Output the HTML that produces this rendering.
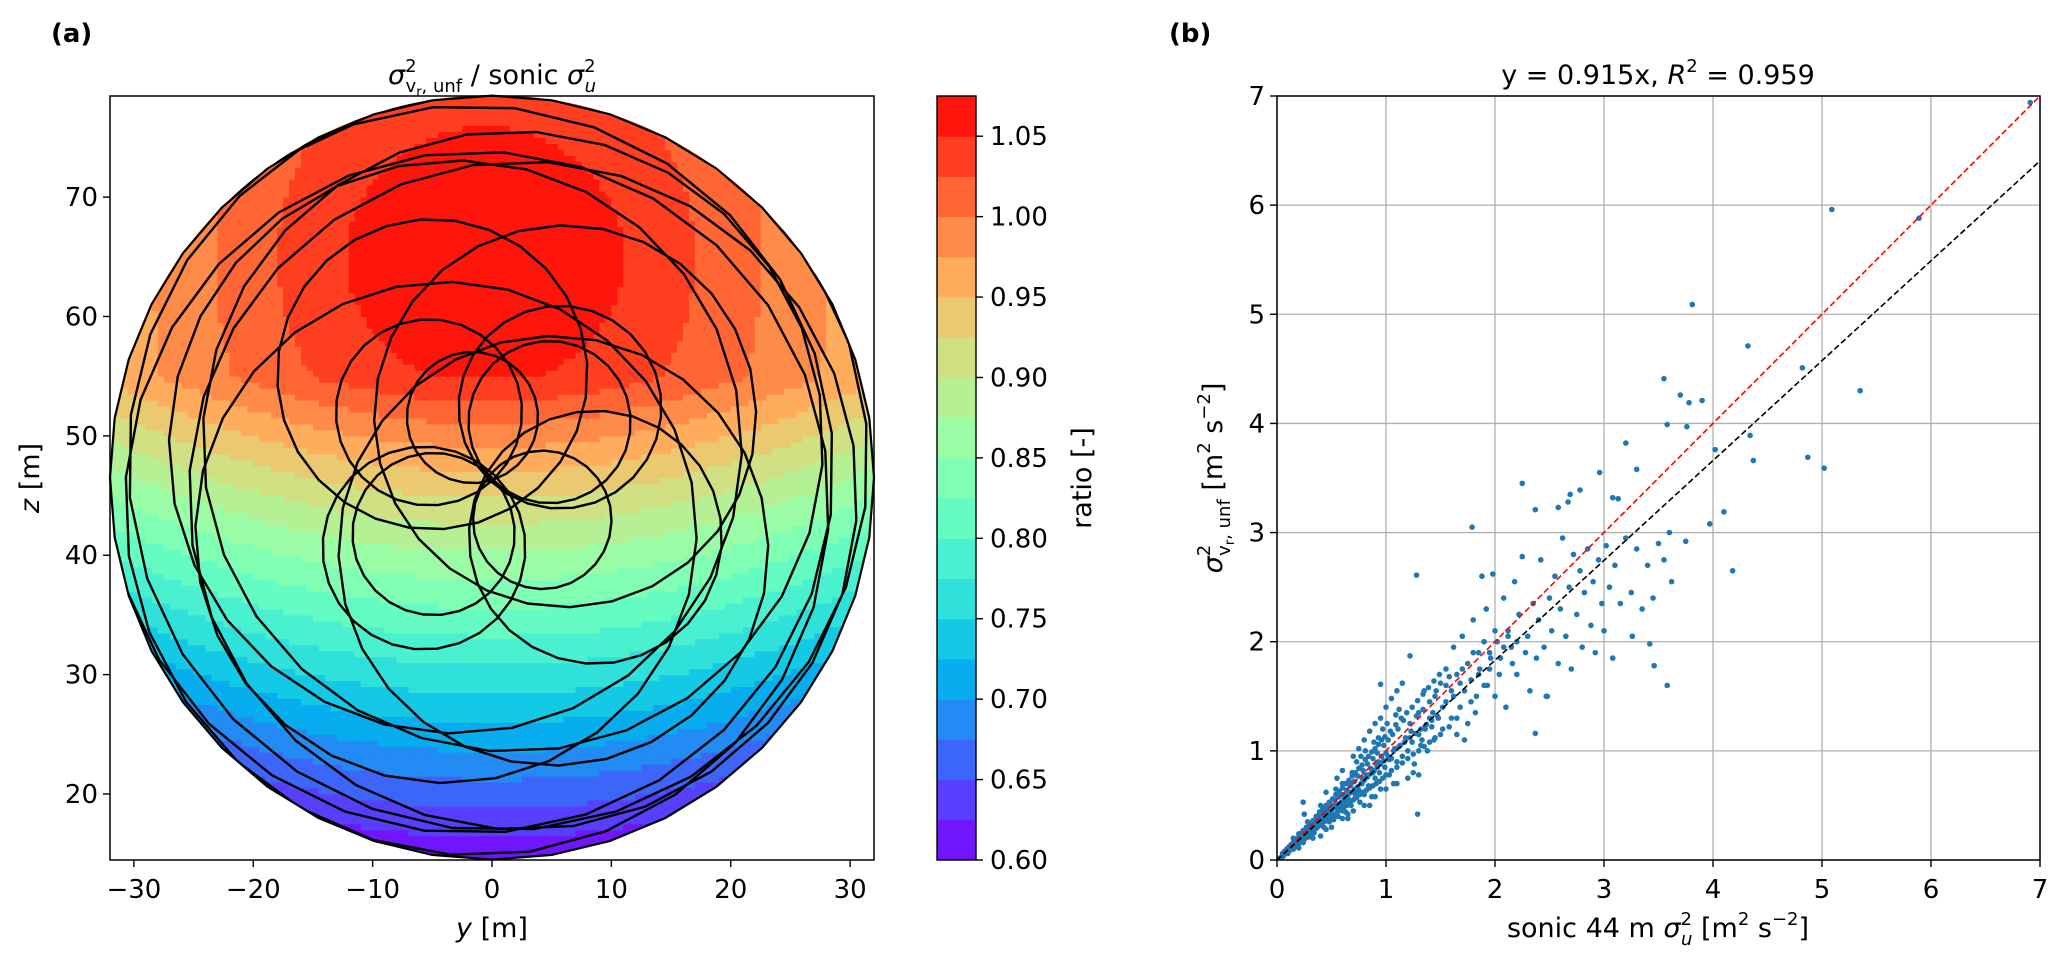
<!DOCTYPE html>
<html><head><meta charset="utf-8"><style>
html,body{margin:0;padding:0;background:#fff;overflow:hidden;width:2067px;height:968px}
svg{display:block}
svg text{font-family:"DejaVu Sans","Liberation Sans",sans-serif;fill:#000}
</style></head><body>
<svg id="fig" width="2067" height="968" viewBox="0 0 2067 968" xmlns="http://www.w3.org/2000/svg">
<defs>
<clipPath id="circClip"><ellipse cx="492" cy="477" rx="382" ry="382"/></clipPath>
<clipPath id="axR"><rect x="1277" y="96" width="763" height="764"/></clipPath>
</defs>
<text x="51" y="42" font-size="26" font-weight="bold">(a)</text>
<text x="1169" y="42" font-size="26" font-weight="bold">(b)</text>
<text x="492" y="84" font-size="27" text-anchor="middle"><tspan font-style="italic">σ</tspan><tspan font-size="18" dy="-12">2</tspan><tspan font-size="18" dx="-11" dy="20">v</tspan><tspan font-size="13" dy="4">r</tspan><tspan font-size="18" dy="-4">, unf</tspan><tspan dy="-8"> / sonic </tspan><tspan font-style="italic">σ</tspan><tspan font-size="18" dy="-12">2</tspan><tspan font-size="18" font-style="italic" dx="-11" dy="20">u</tspan></text>
<g id="leftPlot">
<g id="cells" clip-path="url(#circClip)"></g>
<g id="scan" clip-path="url(#circClip)"></g>
<polygon id="rim" fill="none" stroke="#000" stroke-width="2.2"/>
<rect x="110" y="96" width="764" height="764" fill="none" stroke="#000" stroke-width="1.5"/>
<g id="leftTicks"></g>
</g>
<text x="492" y="937" font-size="27" text-anchor="middle"><tspan font-style="italic">y</tspan> [m]</text>
<text x="0" y="0" font-size="27" text-anchor="middle" transform="translate(39,478) rotate(-90)"><tspan font-style="italic">z</tspan> [m]</text>
<g id="cbar"></g>
<text x="0" y="0" font-size="27" text-anchor="middle" transform="translate(1091,478) rotate(-90)">ratio [-]</text>
<text x="1658" y="84" font-size="27" text-anchor="middle">y = 0.915x, <tspan font-style="italic">R</tspan><tspan font-size="18" dy="-12">2</tspan><tspan dy="12"> = 0.959</tspan></text>
<g id="rightPlot"></g>
<text x="1658" y="937" font-size="27" text-anchor="middle">sonic 44 m <tspan font-style="italic">σ</tspan><tspan font-size="18" dy="-12">2</tspan><tspan font-size="18" font-style="italic" dx="-11" dy="20">u</tspan><tspan dy="-8"> [m</tspan><tspan font-size="18" dy="-12">2</tspan><tspan dy="12"> s</tspan><tspan font-size="18" dy="-12">−2</tspan><tspan dy="12">]</tspan></text>
<text x="0" y="0" font-size="27" text-anchor="middle" transform="translate(1222,478) rotate(-90)"><tspan font-style="italic">σ</tspan><tspan font-size="18" dy="-12">2</tspan><tspan font-size="18" dx="-11" dy="20">v</tspan><tspan font-size="13" dy="4">r</tspan><tspan font-size="18" dy="-4">, unf</tspan><tspan dy="-8"> [m</tspan><tspan font-size="18" dy="-12">2</tspan><tspan dy="12"> s</tspan><tspan font-size="18" dy="-12">−2</tspan><tspan dy="12">]</tspan></text>
</svg>
<script>
const NS='http://www.w3.org/2000/svg';
// ---- left panel data ----
const yTicksLeft=[-30,-20,-10,0,10,20,30];
const zTicksLeft=[20,30,40,50,60,70];
const cbarLevels=[0.60,0.625,0.65,0.675,0.70,0.725,0.75,0.775,0.80,0.825,0.85,0.875,0.90,0.925,0.95,0.975,1.00,1.025,1.05,1.075];
const cbarTickLabels=['0.60','0.65','0.70','0.75','0.80','0.85','0.90','0.95','1.00','1.05'];
const loopAngle=[108,44,-40,-136,134,46,-30,-134,120,40,-50,-130,140,60,-30,-120,160,70];
const loopOffset=[5.3,6.7,5.5,6.8,7.6,8.2,10,8.2,10,8,8,6,4,3.5,3,2.5,2,1.5];
const loopRadius=[5.5,6.8,5.8,6.8,7.8,8.5,10.6,8.5,13,16,18,21,24,26,28,29.5,30.5,31];
const scanCenterY=0, scanCenterZ=46.5, scanRadius=32;
// ---- right panel data ----
const xTicksRight=[0,1,2,3,4,5,6,7];
const yTicksRight=[0,1,2,3,4,5,6,7];
const fitSlope=0.915;
const sonicVar=[0.03,0.05,0.06,0.08,0.09,0.10,0.11,0.12,0.13,0.14,0.15,0.16,0.17,0.18,0.19,0.20,0.21,0.22,0.23,0.24,0.25,0.26,0.27,0.28,0.29,0.30,0.31,0.32,0.33,0.34,0.35,0.36,0.37,0.38,0.39,0.40,0.41,0.42,0.43,0.44,0.45,0.46,0.47,0.48,0.49,0.50,0.51,0.52,0.53,0.54,0.55,0.56,0.57,0.58,0.59,0.60,0.61,0.62,0.63,0.64,0.65,0.66,0.67,0.68,0.69,0.70,0.71,0.72,0.73,0.74,0.75,0.76,0.77,0.78,0.79,0.80,0.81,0.82,0.83,0.84,0.85,0.86,0.87,0.88,0.89,0.90,0.91,0.92,0.93,0.94,0.95,0.96,0.97,0.98,0.99,1.00,1.02,1.04,1.05,1.07,1.09,1.10,1.12,1.14,1.15,1.17,1.19,1.20,1.22,1.24,1.25,1.27,1.29,1.30,1.32,1.34,1.35,1.37,1.39,1.40,1.42,1.44,1.45,1.47,1.49,1.50,
0.25,0.24,0.45,0.55,0.60,0.70,0.75,0.80,0.85,0.95,1.00,1.05,1.10,1.15,0.90,0.40,0.50,0.60,0.70,0.80,0.90,1.00,1.10,1.20,1.30,0.65,0.35,0.45,0.52,0.58,0.33,0.42,0.48,0.62,0.68,0.72,0.78,0.88,0.93,1.03,1.13,1.23,1.33,1.43,0.20,0.28,0.38,
1.52,1.55,1.58,1.60,1.62,1.65,1.68,1.70,1.72,1.75,1.78,1.80,1.82,1.85,1.88,1.90,1.92,1.95,1.98,2.00,2.02,2.05,2.08,2.10,2.12,2.15,2.18,2.20,2.22,2.25,2.28,2.30,2.32,2.35,2.38,2.40,2.42,2.45,2.48,2.50,2.52,2.55,2.58,2.60,2.62,2.65,2.68,2.70,2.72,2.75,2.78,2.80,2.82,2.85,2.88,2.90,2.92,2.95,2.98,3.00,3.02,3.05,3.08,3.10,3.15,3.20,3.25,3.30,3.35,3.40,3.45,3.50,3.55,3.60,3.62,3.75,1.40,1.45,1.30,1.55,1.65,1.85,1.95,
6.91,5.09,3.81,4.32,4.82,5.35,3.55,3.70,3.78,3.90,3.58,3.76,4.02,4.34,4.37,4.87,5.02,3.20,3.30,2.96,2.25,4.10,3.97,4.18,1.79,1.28,2.37,2.58,2.78,2.69,2.67,3.08,3.13,3.46,3.58,3.42,3.26,2.37,2.47,0.95,1.22,1.29,5.89,
0.05,0.07,0.10,0.12,0.15,0.17,0.19,0.21,0.23,0.24,0.26,0.27,0.29,0.31,0.32,0.34,0.35,0.36,0.38,0.39,0.41,0.42,0.43,0.44,0.46,0.47,0.48,0.50,0.51,0.52,0.53,0.55,0.56,0.57,0.58,0.60,0.61,0.62,0.63,0.64,0.66,0.67,0.68,0.70,0.71,0.72,0.74,0.75,0.76,0.78,0.79,0.80,0.82,0.83,0.84,0.86,0.87,0.88,0.90,0.91,0.92,0.94,0.95,0.96,0.98,0.99,1.00,1.02,1.03,1.05,1.06,1.08,1.10,1.11,1.13,1.15,1.16,1.18,1.20,1.22,1.24,1.26,1.28,1.30,1.32,1.34,1.36,1.38,1.40,1.42,1.44,1.46,1.48,1.50,1.52,1.55,1.58,1.60,1.62,1.65,1.68,1.70,1.72,1.75,1.78,1.80,1.83,1.86,1.90,1.93,1.96,2.00,2.04,2.08,2.12,2.16,2.20,0.15,0.20,0.28,0.33,0.40,0.45,0.54,0.65,0.73,0.85,0.93,1.07,1.12,1.25,1.35,0.60,0.69,0.77,0.81,0.97,0.89,1.01,1.09];
const lidarVar=[0.02,0.06,0.04,0.07,0.10,0.08,0.12,0.09,0.14,0.11,0.16,0.12,0.18,0.14,0.20,0.15,0.24,0.18,0.20,0.27,0.19,0.23,0.30,0.22,0.26,0.33,0.24,0.29,0.36,0.27,0.31,0.40,0.30,0.35,0.44,0.32,0.37,0.47,0.35,0.40,0.50,0.36,0.43,0.53,0.38,0.45,0.56,0.41,0.48,0.60,0.43,0.51,0.63,0.46,0.53,0.66,0.48,0.56,0.70,0.50,0.59,0.73,0.52,0.62,0.77,0.55,0.65,0.80,0.57,0.67,0.84,0.60,0.70,0.87,0.62,0.73,0.92,0.64,0.76,0.95,0.66,0.79,0.99,0.68,0.82,1.02,0.70,0.85,1.06,0.72,0.88,1.10,0.75,0.91,1.13,0.78,0.95,1.18,0.82,1.00,1.24,0.85,1.04,1.30,0.89,1.08,1.35,0.93,1.12,1.40,0.97,1.16,1.46,1.00,1.20,1.52,1.04,1.24,1.58,1.08,1.28,1.64,1.12,1.32,1.70,1.15,
0.42,0.53,0.62,0.75,0.82,0.95,1.02,1.10,1.18,1.30,1.40,1.48,1.55,1.62,1.25,0.22,0.30,0.38,0.45,0.50,0.58,0.65,0.70,0.75,0.78,0.42,0.36,0.46,0.50,0.60,0.33,0.44,0.40,0.55,0.70,0.62,0.75,0.80,0.90,0.92,1.05,1.18,1.10,1.35,0.24,0.30,0.40,
1.40,1.75,1.22,1.55,1.95,1.30,1.62,2.05,1.10,1.80,1.45,2.20,1.35,1.90,2.60,1.60,2.30,1.75,2.62,1.50,2.00,1.85,2.40,1.40,2.10,1.95,2.55,1.70,2.25,2.78,1.90,2.05,1.55,2.35,1.85,2.20,2.75,1.95,1.50,2.40,2.10,2.60,1.80,2.30,2.95,2.05,2.50,1.75,2.80,2.25,2.65,1.95,2.45,2.85,2.15,2.55,1.90,2.75,2.35,2.10,2.88,2.50,1.85,2.70,2.35,2.95,2.45,2.85,2.30,2.70,2.40,2.90,2.75,3.00,2.55,2.92,1.30,1.50,1.35,1.60,1.70,1.70,1.90,
6.94,5.96,5.09,4.71,4.51,4.30,4.41,4.26,4.19,4.21,3.99,3.97,3.76,3.89,3.66,3.69,3.59,3.82,3.58,3.55,3.45,3.19,3.08,2.65,3.05,2.61,3.21,3.23,3.39,3.35,3.28,3.32,3.31,1.78,1.60,1.98,2.05,1.16,1.50,1.61,1.87,0.42,5.88,
0.03,0.08,0.06,0.13,0.10,0.15,0.13,0.17,0.25,0.16,0.20,0.26,0.21,0.28,0.34,0.25,0.37,0.29,0.31,0.38,0.33,0.42,0.30,0.45,0.39,0.48,0.35,0.43,0.50,0.37,0.55,0.47,0.40,0.58,0.50,0.45,0.60,0.52,0.44,0.64,0.55,0.68,0.50,0.62,0.72,0.58,0.77,0.64,0.53,0.70,0.82,0.60,0.78,0.88,0.68,0.84,0.58,0.93,0.75,0.88,0.98,0.80,0.65,0.95,1.05,0.85,0.98,1.10,0.78,0.93,1.15,1.02,0.90,1.20,1.05,0.95,1.28,1.12,1.00,1.25,1.08,0.88,1.32,1.15,1.05,1.38,1.20,1.00,1.45,1.22,1.10,1.55,1.30,1.62,1.20,1.45,1.68,1.30,1.50,1.15,1.40,1.75,1.55,1.25,1.65,1.90,1.50,1.75,2.00,1.60,1.85,2.10,1.70,1.95,2.05,1.80,2.00,0.20,0.11,0.35,0.20,0.50,0.28,0.65,0.38,0.90,0.50,1.12,0.70,1.38,0.80,1.55,0.70,0.80,0.95,1.00,1.20,1.08,1.25,1.33];

function mk(tag,attrs,parent){const e=document.createElementNS(NS,tag);for(const k in attrs)e.setAttribute(k,attrs[k]);parent.appendChild(e);return e;}
function rainbow(x){const r=Math.min(1,Math.abs(2*x-0.5)),g=Math.sin(Math.PI*x),b=Math.cos(Math.PI*x/2);const c=v=>Math.round(Math.max(0,Math.min(1,v))*255);return `rgb(${c(r)},${c(g)},${c(b)})`;}
const L={x0:110,x1:874,y0:96,y1:860,ymin:-32,ymax:32,zmin:14.47,zmax:78.47};
const LX=y=>L.x0+(y-L.ymin)/(L.ymax-L.ymin)*(L.x1-L.x0);
const LZ=z=>L.y1-(z-L.zmin)/(L.zmax-L.zmin)*(L.y1-L.y0);
function field(y,z){
 let base=z<55?0.6+0.0104*(z-14):1.026;
 const bump=0.05*Math.exp(-((y+1)*(y+1)/(2*13*13)+(z-65)*(z-65)/(2*9*9)));
 return base+bump-0.00007*y*y;
}
const nBands=cbarLevels.length-1;
function bandColor(v){let k=0;for(let i=0;i<nBands;i++){if(v>=cbarLevels[i])k=i;}return rainbow((k+0.5)/nBands);}
const cells=document.getElementById('cells');
const st=0.5;
for(let y=-32;y<32;y+=st){for(let z=14;z<79;z+=st){
 const r=mk('rect',{x:LX(y),y:LZ(z+st),width:LX(y+st)-LX(y)+0.5,height:LZ(z)-LZ(z+st)+0.5,fill:bandColor(field(y+st/2,z+st/2))},cells);
 
 
}}
let rp=[];for(let i=0;i<40;i++){const a=i/40*2*Math.PI;rp.push(LX(scanCenterY+scanRadius*Math.cos(a)).toFixed(1)+','+LZ(scanCenterZ+scanRadius*Math.sin(a)).toFixed(1));}
document.getElementById('rim').setAttribute('points',rp.join(' '));
const scan=document.getElementById('scan');
for(let k=0;k<loopAngle.length;k++){
 const th=loopAngle[k]*Math.PI/180,R=loopRadius[k],o=loopOffset[k];
 const cy=scanCenterY+o*Math.cos(th),cz=scanCenterZ+o*Math.sin(th);
 const n=28;let pts=[];
 for(let i=0;i<n;i++){const a=th+Math.PI-i/n*2*Math.PI;pts.push(LX(cy+R*Math.cos(a)).toFixed(1)+','+LZ(cz+R*Math.sin(a)).toFixed(1));}
 const pg=mk('polygon',{points:pts.join(' '),fill:'none',stroke:'#000','stroke-width':2.4,'stroke-linejoin':'round'},scan);
 
 
}
const lt=document.getElementById('leftTicks');
yTicksLeft.forEach(t=>{const x=LX(t);mk('line',{x1:x,x2:x,y1:L.y1,y2:L.y1+7,stroke:'#000','stroke-width':1.4},lt);
 const tx=mk('text',{x:x,y:898,'font-size':26,'text-anchor':'middle'},lt);tx.textContent=(t<0?'−'+(-t):t);
 });
zTicksLeft.forEach(t=>{const y=LZ(t);mk('line',{x1:L.x0-7,x2:L.x0,y1:y,y2:y,stroke:'#000','stroke-width':1.4},lt);
 const tx=mk('text',{x:L.x0-12,y:y+9,'font-size':26,'text-anchor':'end'},lt);tx.textContent=t;
 });
const cb=document.getElementById('cbar');const CB={x0:937,x1:976,y0:96,y1:860};
const CV=v=>CB.y1-(v-cbarLevels[0])/(cbarLevels[nBands]-cbarLevels[0])*(CB.y1-CB.y0);
for(let i=0;i<nBands;i++){const r=mk('rect',{x:CB.x0,y:CV(cbarLevels[i+1]),width:CB.x1-CB.x0,height:CV(cbarLevels[i])-CV(cbarLevels[i+1])+0.5,fill:rainbow((i+0.5)/nBands)},cb);
 }
mk('rect',{x:CB.x0,y:CB.y0,width:CB.x1-CB.x0,height:CB.y1-CB.y0,fill:'none',stroke:'#000','stroke-width':1.4},cb);
cbarTickLabels.forEach(s=>{const y=CV(parseFloat(s));mk('line',{x1:CB.x1,x2:CB.x1+7,y1:y,y2:y,stroke:'#000','stroke-width':1.4},cb);
 const tx=mk('text',{x:CB.x1+14,y:y+9,'font-size':26},cb);tx.textContent=s;
 });
const R={x0:1277,x1:2040,y0:96,y1:860,max:7};
const RX=v=>R.x0+v/R.max*(R.x1-R.x0), RY=v=>R.y1-v/R.max*(R.y1-R.y0);
const rg=document.getElementById('rightPlot');
xTicksRight.forEach(t=>{const x=RX(t);mk('line',{x1:x,x2:x,y1:R.y0,y2:R.y1,stroke:'#b0b0b0','stroke-width':1.3},rg);
 mk('line',{x1:x,x2:x,y1:R.y1,y2:R.y1+7,stroke:'#000','stroke-width':1.4},rg);
 const tx=mk('text',{x:x,y:898,'font-size':26,'text-anchor':'middle'},rg);tx.textContent=t;
 });
yTicksRight.forEach(t=>{const y=RY(t);mk('line',{x1:R.x0,x2:R.x1,y1:y,y2:y,stroke:'#b0b0b0','stroke-width':1.3},rg);
 mk('line',{x1:R.x0-7,x2:R.x0,y1:y,y2:y,stroke:'#000','stroke-width':1.4},rg);
 const tx=mk('text',{x:R.x0-12,y:y+9,'font-size':26,'text-anchor':'end'},rg);tx.textContent=t;
 });
const sg=mk('g',{'clip-path':'url(#axR)'},rg);


const nPts=Math.min(sonicVar.length,lidarVar.length);
for(let i=0;i<nPts;i++){const c=mk('circle',{cx:RX(sonicVar[i]),cy:RY(lidarVar[i]),r:2.8,fill:'#1f77b4'},sg);
 }
const one=mk('line',{x1:RX(0),y1:RY(0),x2:RX(7),y2:RY(7),stroke:'#ff0000','stroke-width':1.6,'stroke-dasharray':'6,3'},sg);

const fit=mk('line',{x1:RX(0),y1:RY(0),x2:RX(7),y2:RY(7*fitSlope),stroke:'#000','stroke-width':1.6,'stroke-dasharray':'6,3'},sg);

const fr=mk('rect',{x:R.x0,y:R.y0,width:R.x1-R.x0,height:R.y1-R.y0,fill:'none',stroke:'#000','stroke-width':1.5},rg);

</script>
</body></html>
